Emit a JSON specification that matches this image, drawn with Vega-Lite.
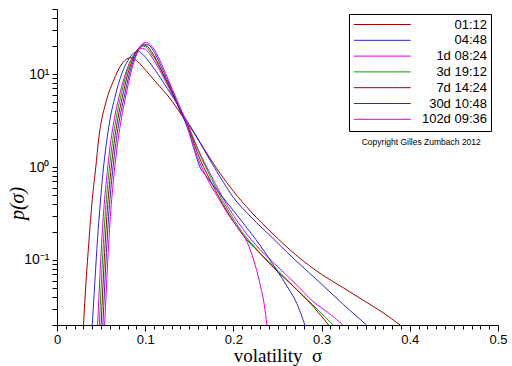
{
  "$schema": "https://vega.github.io/schema/vega-lite/v6.json",
  "width": 441,
  "height": 316,
  "autosize": {"type": "none"},
  "padding": {"left": 57, "top": 9, "right": 14, "bottom": 41},
  "background": "white",
  "config": {
    "view": {"stroke": null},
    "axis": {"domainColor": "black", "tickColor": "black", "labelColor": "black", "titleColor": "black", "grid": false, "labelFont": "Liberation Sans", "labelFontSize": 14, "labelOverlap": false, "labelFlush": false, "tickCount": 200}
  },
  "datasets": {
    "curves": [
      {"s":0.030,"p":0.02,"c":"01:12"},{"s":0.033,"p":0.06,"c":"01:12"},{"s":0.036,"p":0.15,"c":"01:12"},{"s":0.040,"p":0.45,"c":"01:12"},{"s":0.044,"p":1.0,"c":"01:12"},{"s":0.047,"p":1.9,"c":"01:12"},{"s":0.050,"p":3.0,"c":"01:12"},{"s":0.054,"p":4.4,"c":"01:12"},{"s":0.058,"p":6.0,"c":"01:12"},{"s":0.063,"p":8.0,"c":"01:12"},{"s":0.070,"p":11.3,"c":"01:12"},{"s":0.077,"p":14.0,"c":"01:12"},{"s":0.084,"p":15,"c":"01:12"},{"s":0.090,"p":14,"c":"01:12"},{"s":0.097,"p":12,"c":"01:12"},{"s":0.105,"p":9.8,"c":"01:12"},{"s":0.115,"p":7.6,"c":"01:12"},{"s":0.126,"p":5.8,"c":"01:12"},{"s":0.136,"p":4.3,"c":"01:12"},{"s":0.145,"p":3.2,"c":"01:12"},{"s":0.155,"p":2.35,"c":"01:12"},{"s":0.170,"p":1.4,"c":"01:12"},{"s":0.185,"p":0.85,"c":"01:12"},{"s":0.200,"p":0.55,"c":"01:12"},{"s":0.220,"p":0.33,"c":"01:12"},{"s":0.245,"p":0.19,"c":"01:12"},{"s":0.270,"p":0.115,"c":"01:12"},{"s":0.300,"p":0.070,"c":"01:12"},{"s":0.325,"p":0.050,"c":"01:12"},{"s":0.347,"p":0.037,"c":"01:12"},{"s":0.370,"p":0.027,"c":"01:12"},{"s":0.389,"p":0.02,"c":"01:12"},

      {"s":0.040,"p":0.02,"c":"04:48"},{"s":0.043,"p":0.06,"c":"04:48"},{"s":0.046,"p":0.17,"c":"04:48"},{"s":0.049,"p":0.4,"c":"04:48"},{"s":0.052,"p":0.85,"c":"04:48"},{"s":0.056,"p":1.8,"c":"04:48"},{"s":0.060,"p":3.2,"c":"04:48"},{"s":0.066,"p":5.8,"c":"04:48"},{"s":0.073,"p":9.8,"c":"04:48"},{"s":0.080,"p":13.8,"c":"04:48"},{"s":0.087,"p":16.8,"c":"04:48"},{"s":0.092,"p":17.5,"c":"04:48"},{"s":0.098,"p":16,"c":"04:48"},{"s":0.105,"p":13.3,"c":"04:48"},{"s":0.115,"p":9.8,"c":"04:48"},{"s":0.125,"p":7,"c":"04:48"},{"s":0.135,"p":5,"c":"04:48"},{"s":0.145,"p":3.4,"c":"04:48"},{"s":0.155,"p":2.4,"c":"04:48"},{"s":0.170,"p":1.35,"c":"04:48"},{"s":0.185,"p":0.78,"c":"04:48"},{"s":0.200,"p":0.47,"c":"04:48"},{"s":0.220,"p":0.29,"c":"04:48"},{"s":0.245,"p":0.17,"c":"04:48"},{"s":0.270,"p":0.10,"c":"04:48"},{"s":0.300,"p":0.055,"c":"04:48"},{"s":0.325,"p":0.033,"c":"04:48"},{"s":0.351,"p":0.02,"c":"04:48"},

      {"s":0.046,"p":0.02,"c":"1d 08:24"},{"s":0.048,"p":0.05,"c":"1d 08:24"},{"s":0.050,"p":0.12,"c":"1d 08:24"},{"s":0.052,"p":0.25,"c":"1d 08:24"},{"s":0.054,"p":0.45,"c":"1d 08:24"},{"s":0.056,"p":0.72,"c":"1d 08:24"},{"s":0.060,"p":1.6,"c":"1d 08:24"},{"s":0.065,"p":3.3,"c":"1d 08:24"},{"s":0.070,"p":5.5,"c":"1d 08:24"},{"s":0.076,"p":9,"c":"1d 08:24"},{"s":0.082,"p":13,"c":"1d 08:24"},{"s":0.088,"p":16.5,"c":"1d 08:24"},{"s":0.094,"p":19,"c":"1d 08:24"},{"s":0.100,"p":18.5,"c":"1d 08:24"},{"s":0.105,"p":16.5,"c":"1d 08:24"},{"s":0.110,"p":14,"c":"1d 08:24"},{"s":0.120,"p":9.5,"c":"1d 08:24"},{"s":0.130,"p":6.2,"c":"1d 08:24"},{"s":0.140,"p":4.0,"c":"1d 08:24"},{"s":0.150,"p":2.6,"c":"1d 08:24"},{"s":0.160,"p":1.55,"c":"1d 08:24"},{"s":0.175,"p":0.8,"c":"1d 08:24"},{"s":0.192,"p":0.40,"c":"1d 08:24"},{"s":0.210,"p":0.22,"c":"1d 08:24"},{"s":0.230,"p":0.13,"c":"1d 08:24"},{"s":0.250,"p":0.085,"c":"1d 08:24"},{"s":0.270,"p":0.056,"c":"1d 08:24"},{"s":0.290,"p":0.036,"c":"1d 08:24"},{"s":0.310,"p":0.026,"c":"1d 08:24"},{"s":0.324,"p":0.02,"c":"1d 08:24"},

      {"s":0.048,"p":0.02,"c":"3d 19:12"},{"s":0.050,"p":0.05,"c":"3d 19:12"},{"s":0.052,"p":0.12,"c":"3d 19:12"},{"s":0.054,"p":0.25,"c":"3d 19:12"},{"s":0.056,"p":0.45,"c":"3d 19:12"},{"s":0.058,"p":0.72,"c":"3d 19:12"},{"s":0.062,"p":1.6,"c":"3d 19:12"},{"s":0.067,"p":3.3,"c":"3d 19:12"},{"s":0.072,"p":5.6,"c":"3d 19:12"},{"s":0.078,"p":9.5,"c":"3d 19:12"},{"s":0.084,"p":14,"c":"3d 19:12"},{"s":0.090,"p":17.5,"c":"3d 19:12"},{"s":0.096,"p":20,"c":"3d 19:12"},{"s":0.101,"p":19.5,"c":"3d 19:12"},{"s":0.106,"p":17,"c":"3d 19:12"},{"s":0.112,"p":14,"c":"3d 19:12"},{"s":0.120,"p":10,"c":"3d 19:12"},{"s":0.130,"p":6.4,"c":"3d 19:12"},{"s":0.140,"p":4.0,"c":"3d 19:12"},{"s":0.150,"p":2.55,"c":"3d 19:12"},{"s":0.160,"p":1.5,"c":"3d 19:12"},{"s":0.175,"p":0.75,"c":"3d 19:12"},{"s":0.192,"p":0.37,"c":"3d 19:12"},{"s":0.210,"p":0.20,"c":"3d 19:12"},{"s":0.230,"p":0.12,"c":"3d 19:12"},{"s":0.250,"p":0.078,"c":"3d 19:12"},{"s":0.270,"p":0.05,"c":"3d 19:12"},{"s":0.290,"p":0.033,"c":"3d 19:12"},{"s":0.313,"p":0.02,"c":"3d 19:12"},

      {"s":0.050,"p":0.02,"c":"7d 14:24"},{"s":0.052,"p":0.05,"c":"7d 14:24"},{"s":0.054,"p":0.12,"c":"7d 14:24"},{"s":0.056,"p":0.25,"c":"7d 14:24"},{"s":0.058,"p":0.45,"c":"7d 14:24"},{"s":0.060,"p":0.72,"c":"7d 14:24"},{"s":0.064,"p":1.6,"c":"7d 14:24"},{"s":0.069,"p":3.3,"c":"7d 14:24"},{"s":0.074,"p":5.6,"c":"7d 14:24"},{"s":0.080,"p":9.8,"c":"7d 14:24"},{"s":0.086,"p":14.5,"c":"7d 14:24"},{"s":0.092,"p":18.5,"c":"7d 14:24"},{"s":0.097,"p":20.5,"c":"7d 14:24"},{"s":0.102,"p":20,"c":"7d 14:24"},{"s":0.107,"p":17.5,"c":"7d 14:24"},{"s":0.113,"p":14,"c":"7d 14:24"},{"s":0.120,"p":10.2,"c":"7d 14:24"},{"s":0.130,"p":6.5,"c":"7d 14:24"},{"s":0.140,"p":4.0,"c":"7d 14:24"},{"s":0.150,"p":2.5,"c":"7d 14:24"},{"s":0.158,"p":1.52,"c":"7d 14:24"},{"s":0.175,"p":0.68,"c":"7d 14:24"},{"s":0.192,"p":0.345,"c":"7d 14:24"},{"s":0.210,"p":0.19,"c":"7d 14:24"},{"s":0.230,"p":0.118,"c":"7d 14:24"},{"s":0.250,"p":0.075,"c":"7d 14:24"},{"s":0.268,"p":0.052,"c":"7d 14:24"},{"s":0.290,"p":0.032,"c":"7d 14:24"},{"s":0.308,"p":0.02,"c":"7d 14:24"},

      {"s":0.052,"p":0.02,"c":"30d 10:48"},{"s":0.054,"p":0.05,"c":"30d 10:48"},{"s":0.056,"p":0.12,"c":"30d 10:48"},{"s":0.058,"p":0.25,"c":"30d 10:48"},{"s":0.060,"p":0.45,"c":"30d 10:48"},{"s":0.062,"p":0.72,"c":"30d 10:48"},{"s":0.066,"p":1.6,"c":"30d 10:48"},{"s":0.071,"p":3.3,"c":"30d 10:48"},{"s":0.076,"p":5.6,"c":"30d 10:48"},{"s":0.082,"p":10,"c":"30d 10:48"},{"s":0.088,"p":15,"c":"30d 10:48"},{"s":0.094,"p":19,"c":"30d 10:48"},{"s":0.099,"p":21,"c":"30d 10:48"},{"s":0.104,"p":20.5,"c":"30d 10:48"},{"s":0.109,"p":18,"c":"30d 10:48"},{"s":0.115,"p":14,"c":"30d 10:48"},{"s":0.122,"p":10,"c":"30d 10:48"},{"s":0.130,"p":6.8,"c":"30d 10:48"},{"s":0.140,"p":4.0,"c":"30d 10:48"},{"s":0.145,"p":3.1,"c":"30d 10:48"},{"s":0.150,"p":2.3,"c":"30d 10:48"},{"s":0.155,"p":1.6,"c":"30d 10:48"},{"s":0.162,"p":1.0,"c":"30d 10:48"},{"s":0.170,"p":0.78,"c":"30d 10:48"},{"s":0.181,"p":0.57,"c":"30d 10:48"},{"s":0.195,"p":0.39,"c":"30d 10:48"},{"s":0.211,"p":0.25,"c":"30d 10:48"},{"s":0.230,"p":0.145,"c":"30d 10:48"},{"s":0.249,"p":0.078,"c":"30d 10:48"},{"s":0.262,"p":0.05,"c":"30d 10:48"},{"s":0.272,"p":0.034,"c":"30d 10:48"},{"s":0.281,"p":0.02,"c":"30d 10:48"},

      {"s":0.054,"p":0.02,"c":"102d 09:36"},{"s":0.056,"p":0.05,"c":"102d 09:36"},{"s":0.058,"p":0.12,"c":"102d 09:36"},{"s":0.060,"p":0.25,"c":"102d 09:36"},{"s":0.062,"p":0.45,"c":"102d 09:36"},{"s":0.064,"p":0.72,"c":"102d 09:36"},{"s":0.068,"p":1.6,"c":"102d 09:36"},{"s":0.073,"p":3.3,"c":"102d 09:36"},{"s":0.078,"p":5.8,"c":"102d 09:36"},{"s":0.084,"p":10.5,"c":"102d 09:36"},{"s":0.090,"p":16,"c":"102d 09:36"},{"s":0.095,"p":20,"c":"102d 09:36"},{"s":0.100,"p":22,"c":"102d 09:36"},{"s":0.105,"p":21,"c":"102d 09:36"},{"s":0.110,"p":18.5,"c":"102d 09:36"},{"s":0.116,"p":14.5,"c":"102d 09:36"},{"s":0.123,"p":10.2,"c":"102d 09:36"},{"s":0.131,"p":6.8,"c":"102d 09:36"},{"s":0.140,"p":4.3,"c":"102d 09:36"},{"s":0.149,"p":2.6,"c":"102d 09:36"},{"s":0.155,"p":1.65,"c":"102d 09:36"},{"s":0.163,"p":1.05,"c":"102d 09:36"},{"s":0.173,"p":0.67,"c":"102d 09:36"},{"s":0.185,"p":0.43,"c":"102d 09:36"},{"s":0.196,"p":0.29,"c":"102d 09:36"},{"s":0.207,"p":0.21,"c":"102d 09:36"},{"s":0.215,"p":0.16,"c":"102d 09:36"},{"s":0.223,"p":0.10,"c":"102d 09:36"},{"s":0.230,"p":0.056,"c":"102d 09:36"},{"s":0.235,"p":0.033,"c":"102d 09:36"},{"s":0.238,"p":0.02,"c":"102d 09:36"}
    ],
    "note": [{"s": 0.413, "p": 1.84, "t": "Copyright Gilles Zumbach 2012"}]
  },
  "layer": [
    {
      "data": {"name": "curves"},
      "mark": {"type": "line", "strokeWidth": 1, "clip": true, "interpolate": "monotone"},
      "encoding": {
        "x": {"field": "s", "type": "quantitative",
          "scale": {"domain": [0, 0.5], "nice": false, "zero": false},
          "axis": {
            "values": [0,0.01,0.02,0.03,0.04,0.05,0.06,0.07,0.08,0.09,0.1,0.11,0.12,0.13,0.14,0.15,0.16,0.17,0.18,0.19,0.2,0.21,0.22,0.23,0.24,0.25,0.26,0.27,0.28,0.29,0.3,0.31,0.32,0.33,0.34,0.35,0.36,0.37,0.38,0.39,0.4,0.41,0.42,0.43,0.44,0.45,0.46,0.47,0.48,0.49,0.5],
            "tickCount": 200,
            "labelExpr": "abs(datum.value*10 - round(datum.value*10)) < 1e-6 ? (datum.value == 0 ? '0' : format(datum.value, '.1f')) : ''",
            "tickSize": {"condition": {"test": "abs(datum.value*10 - round(datum.value*10)) < 1e-6", "value": 6}, "value": 4},
            "labelPadding": 2,
            "labelFontSize": 13,
            "title": "volatility \u00a0σ",
            "titleFont": "Liberation Serif",
            "titleFontSize": 19,
            "titleFontWeight": "normal",
            "titlePadding": 0
          }
        },
        "y": {"field": "p", "type": "quantitative",
          "scale": {"type": "log", "domain": [0.02, 50], "nice": false},
          "axis": {
            "values": [0.02,0.03,0.04,0.05,0.06,0.07,0.08,0.09,0.1,0.2,0.3,0.4,0.5,0.6,0.7,0.8,0.9,1,2,3,4,5,6,7,8,9,10,20,30,40,50],
            "tickCount": 200,
            "labelExpr": "datum.value == 0.1 ? '10⁻¹' : datum.value == 1 ? '10⁰' : datum.value == 10 ? '10¹' : ''",
            "tickSize": 5,
            "labelPadding": 3,
            "title": "p(σ)",
            "titleFont": "Liberation Serif",
            "titleFontSize": 20,
            "titleFontWeight": "normal",
            "titleFontStyle": "italic",
            "titleX": -30,
            "titleY": 194
          }
        },
        "color": {"field": "c", "type": "nominal",
          "scale": {
            "domain": ["01:12","04:48","1d 08:24","3d 19:12","7d 14:24","30d 10:48","102d 09:36"],
            "range": ["#a00000","#2828c8","#e000e0","#00a800","#a00000","#2828c8","#e000e0"]
          },
          "legend": {
            "title": null,
            "orient": "none",
            "legendX": 292,
            "legendY": 5,
            "strokeColor": "black",
            "fillColor": "white",
            "padding": 4,
            "symbolType": "M-1,0H9",
            "symbolSize": 130,
            "symbolStrokeWidth": 1,
            "labelAlign": "right",
            "labelOffset": 121,
            "labelFont": "Liberation Sans",
            "labelFontSize": 13,
            "labelColor": "black",
            "rowPadding": 1.8
          }
        }
      }
    },
    {
      "data": {"name": "note"},
      "mark": {"type": "text", "font": "Liberation Sans", "fontSize": 8.5, "color": "black", "align": "center", "baseline": "middle"},
      "encoding": {
        "x": {"field": "s", "type": "quantitative"},
        "y": {"field": "p", "type": "quantitative"},
        "text": {"field": "t"}
      }
    }
  ]
}
